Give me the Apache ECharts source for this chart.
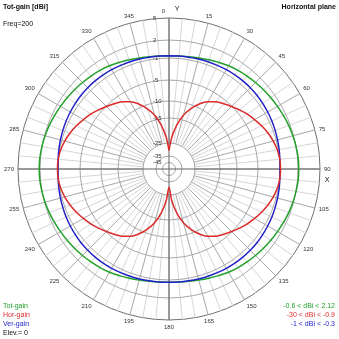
<!DOCTYPE html>
<html><head><meta charset="utf-8">
<script src="https://cdn.jsdelivr.net/npm/echarts@6/dist/echarts.min.js"></script>
<style>html,body{margin:0;padding:0;background:#fff}#c{width:339px;height:339px}</style>
</head><body><div id="c"></div>
<script>
// Azimuth (degrees, clockwise from Y) of each pattern sample
const angles = [0,5,10,15,20,25,30,35,40,45,50,55,60,65,70,75,80,85,
  90,95,100,105,110,115,120,125,130,135,140,145,150,155,160,165,170,175,
  180,185,190,195,200,205,210,215,220,225,230,235,240,245,250,255,260,265,
  270,275,280,285,290,295,300,305,310,315,320,325,330,335,340,345,350,355];

// Gains in dBi at each azimuth
const horGain = [-30,-22,-17,-13.5,-11,-9,-7.5,-6.5,-5.8,-5.1,-4.4,-3.7,-3.1,-2.5,-1.95,-1.5,-1.15,-0.95,
  -0.9,-0.95,-1.15,-1.5,-1.95,-2.5,-3.1,-3.7,-4.4,-5.1,-5.8,-6.5,-7.5,-9,-11,-13.5,-17,-22,
  -30,-22,-17,-13.5,-11,-9,-7.5,-6.5,-5.8,-5.1,-4.4,-3.7,-3.1,-2.5,-1.95,-1.5,-1.15,-0.95,
  -0.9,-0.95,-1.15,-1.5,-1.95,-2.5,-3.1,-3.7,-4.4,-5.1,-5.8,-6.5,-7.5,-9,-11,-13.5,-17,-22];
const verGain = [-0.6,-0.58,-0.55,-0.5,-0.45,-0.4,-0.35,-0.32,-0.3,-0.3,-0.33,-0.4,-0.47,-0.55,-0.65,-0.75,-0.85,-0.95,
  -1.0,-0.95,-0.85,-0.75,-0.65,-0.55,-0.47,-0.4,-0.33,-0.3,-0.3,-0.32,-0.35,-0.4,-0.45,-0.5,-0.55,-0.58,
  -0.6,-0.58,-0.55,-0.5,-0.45,-0.4,-0.35,-0.32,-0.3,-0.3,-0.33,-0.4,-0.47,-0.55,-0.65,-0.75,-0.85,-0.95,
  -1.0,-0.95,-0.85,-0.75,-0.65,-0.55,-0.47,-0.4,-0.33,-0.3,-0.3,-0.32,-0.35,-0.4,-0.45,-0.5,-0.55,-0.58];
const totGain = [-0.6,-0.55,-0.45,-0.29,-0.08,0.16,0.42,0.62,0.78,0.94,1.11,1.27,1.42,1.59,1.76,1.9,2.01,2.1,
  2.12,2.1,2.01,1.9,1.76,1.59,1.42,1.27,1.11,0.94,0.78,0.62,0.42,0.16,-0.08,-0.29,-0.45,-0.55,
  -0.6,-0.55,-0.45,-0.29,-0.08,0.16,0.42,0.62,0.78,0.94,1.11,1.27,1.42,1.59,1.76,1.9,2.01,2.1,
  2.12,2.1,2.01,1.9,1.76,1.59,1.42,1.27,1.11,0.94,0.78,0.62,0.42,0.16,-0.08,-0.29,-0.45,-0.55];

// Grid rings (dBi) and azimuth spokes
const ringLevels = [5, 2, -1, -5, -10, -15, -25, -35, -45];
const spokeAngles = [];
for (let a = 0; a < 360; a += 5) spokeAngles.push(a);

// Radial scale: dBi -> fraction of the outer ring (logarithmic, steeper towards the centre)
const scaleKnots = [[5,1],[2,0.854],[-1,0.735],[-5,0.589],[-10,0.450],[-15,0.338],[-25,0.172],[-35,0.086],[-45,0.043]];
function rOf(db) {
  if (db >= scaleKnots[0][0]) return 1;
  for (let i = 1; i < scaleKnots.length; i++) {
    const [d1, r1] = scaleKnots[i - 1], [d2, r2] = scaleKnots[i];
    if (db >= d2) {
      const t = (db - d1) / (d2 - d1);
      return Math.exp(Math.log(r1) + t * (Math.log(r2) - Math.log(r1)));
    }
  }
  return scaleKnots[scaleKnots.length - 1][1];
}

function curve(values) {
  const pts = angles.map((a, i) => [rOf(values[i]), a]);
  pts.push([rOf(values[0]), 360]);
  return pts;
}

const FONT = 'Liberation Sans, Arial, sans-serif';
const GREEN = '#22a02a', RED = '#dc2a2a', BLUE = '#2222c8';
const innerR = rOf(-25);

const chart = echarts.init(document.getElementById('c'), null, {renderer: 'canvas'});
chart.setOption({
  animation: false,
  backgroundColor: '#fff',
  polar: {center: [169, 169], radius: 151},
  angleAxis: {
    type: 'value', min: 0, max: 360, interval: 15, startAngle: 90, clockwise: true,
    axisLine: {lineStyle: {color: '#707070', width: 1}},
    axisTick: {show: false},
    splitLine: {show: false},
    axisLabel: {fontSize: 6, fontFamily: FONT, color: '#333', margin: 4,
      formatter: v => (v === 360 ? '' : v === 0 ? '{z|0}' : String(v)),
      rich: {z: {fontSize: 6, fontFamily: FONT, color: '#333', padding: [0, 11, 0, 0]}}}
  },
  radiusAxis: {type: 'value', min: 0, max: 1, show: false},
  graphic: [
    {type: 'text', x: 3, y: 7, style: {text: 'Tot-gain [dBi]', font: 'bold 7px ' + FONT, fill: '#111', verticalAlign: 'middle'}},
    {type: 'text', x: 3, y: 24, style: {text: 'Freq=200', font: '7px ' + FONT, fill: '#111', verticalAlign: 'middle'}},
    {type: 'text', x: 336, y: 7, style: {text: 'Horizontal plane', font: 'bold 7px ' + FONT, fill: '#111', align: 'right', verticalAlign: 'middle'}},
    {type: 'text', x: 177, y: 9, style: {text: 'Y', font: '7px ' + FONT, fill: '#111', align: 'center', verticalAlign: 'middle'}},
    {type: 'text', x: 327, y: 180, style: {text: 'X', font: '7px ' + FONT, fill: '#111', align: 'center', verticalAlign: 'middle'}},
    {type: 'text', x: 3, y: 306, style: {text: 'Tot-gain', font: '7px ' + FONT, fill: GREEN, verticalAlign: 'middle'}},
    {type: 'text', x: 3, y: 315, style: {text: 'Hor-gain', font: '7px ' + FONT, fill: RED, verticalAlign: 'middle'}},
    {type: 'text', x: 3, y: 324, style: {text: 'Ver-gain', font: '7px ' + FONT, fill: BLUE, verticalAlign: 'middle'}},
    {type: 'text', x: 3, y: 333, style: {text: 'Elev.= 0', font: '7px ' + FONT, fill: '#111', verticalAlign: 'middle'}},
    {type: 'text', x: 335, y: 306, style: {text: '-0.6 < dBi < 2.12', font: '7px ' + FONT, fill: GREEN, align: 'right', verticalAlign: 'middle'}},
    {type: 'text', x: 335, y: 315, style: {text: '-30 < dBi < -0.9', font: '7px ' + FONT, fill: RED, align: 'right', verticalAlign: 'middle'}},
    {type: 'text', x: 335, y: 324, style: {text: '-1 < dBi < -0.3', font: '7px ' + FONT, fill: BLUE, align: 'right', verticalAlign: 'middle'}}
  ],
  series: [
    { // azimuth spokes, every 5 deg, darker every 15 deg
      type: 'custom', coordinateSystem: 'polar', silent: true, z: 1,
      data: spokeAngles.map(a => [1, a]),
      renderItem: (params, api) => {
        const a = api.value(1);
        const p0 = api.coord([innerR, a]), p1 = api.coord([1, a]);
        return {type: 'line', shape: {x1: p0[0], y1: p0[1], x2: p1[0], y2: p1[1]},
          style: {stroke: a % 15 === 0 ? '#a8a8a8' : '#d6d6d6', lineWidth: 1}};
      }
    },
    { // level rings
      type: 'custom', coordinateSystem: 'polar', silent: true, z: 1,
      data: ringLevels.slice(1).map(l => [rOf(l), 0]),
      renderItem: (params, api) => {
        const c = api.coord([0, 0]), p = api.coord([api.value(0), 0]);
        return {type: 'circle', shape: {cx: c[0], cy: c[1], r: Math.abs(c[1] - p[1])},
          style: {fill: 'none', stroke: '#a8a8a8', lineWidth: 1}};
      }
    },
    { // X / Y axes through the centre
      type: 'custom', coordinateSystem: 'polar', silent: true, z: 2,
      data: [[1, 0], [1, 90]],
      renderItem: (params, api) => {
        const a = api.value(1);
        const p0 = api.coord([1, a]), p1 = api.coord([1, a + 180]);
        return {type: 'line', shape: {x1: p0[0], y1: p0[1], x2: p1[0], y2: p1[1]},
          style: {stroke: '#606060', lineWidth: 1}};
      }
    },
    { // ring level labels along the Y axis
      type: 'custom', coordinateSystem: 'polar', silent: true, z: 3,
      data: ringLevels.map(l => [rOf(l), 0, l]),
      renderItem: (params, api) => {
        const p = api.coord([api.value(0), 0]);
        return {type: 'text', x: p[0] - 16, y: p[1],
          style: {text: String(api.value(2)), font: '6px ' + FONT, fill: '#333', align: 'left', verticalAlign: 'middle'}};
      }
    },
    {name: 'Tot-gain', type: 'line', coordinateSystem: 'polar', data: curve(totGain), smooth: 0.4,
      showSymbol: false, lineStyle: {color: GREEN, width: 1.5}, z: 4},
    {name: 'Ver-gain', type: 'line', coordinateSystem: 'polar', data: curve(verGain), smooth: 0.4,
      showSymbol: false, lineStyle: {color: BLUE, width: 1.5}, z: 5},
    {name: 'Hor-gain', type: 'line', coordinateSystem: 'polar', data: curve(horGain), smooth: 0.3,
      showSymbol: false, lineStyle: {color: RED, width: 1.5}, z: 6}
  ]
});
</script>
</body></html>
